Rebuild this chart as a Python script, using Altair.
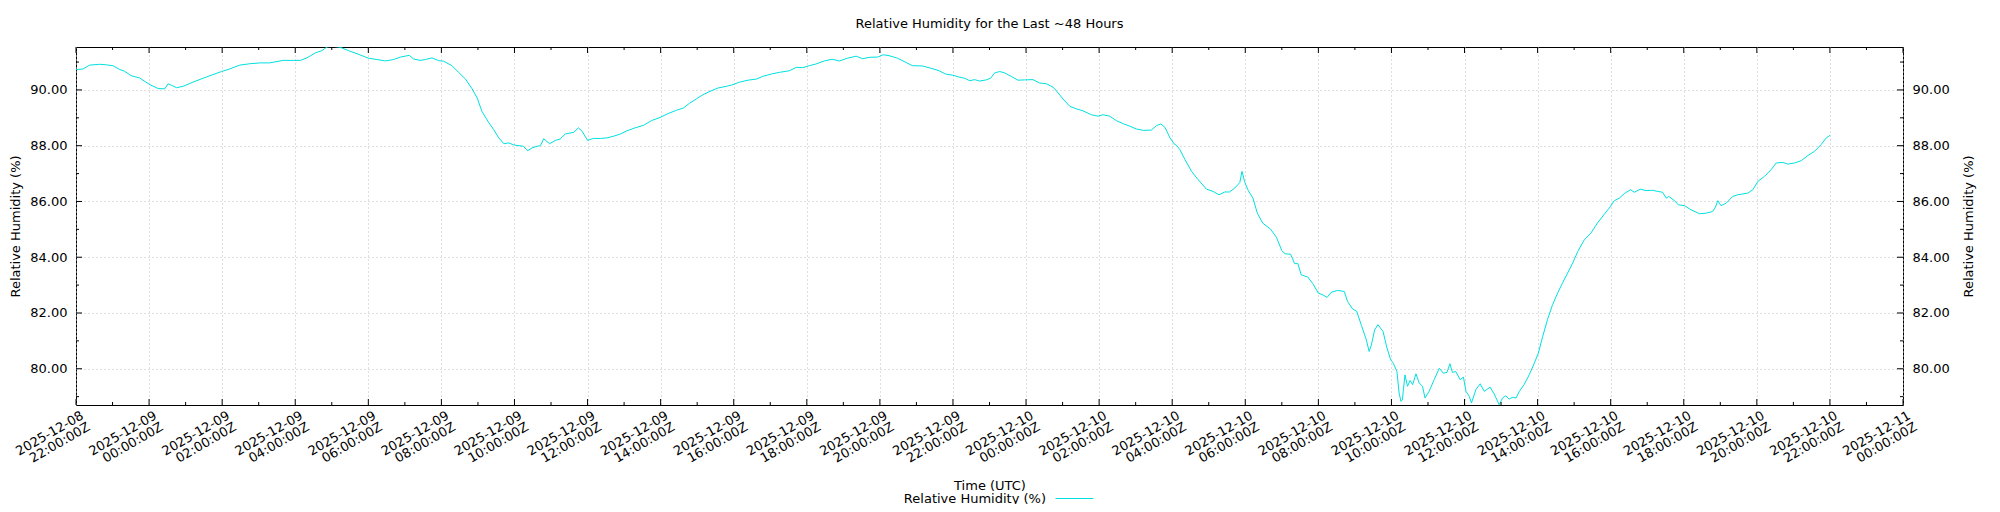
import altair as alt
import pandas as pd
from datetime import datetime, timezone

# ---------------- data ----------------
START = datetime(2025, 12, 8, 22, 0, tzinfo=timezone.utc)
START_MS = int(START.timestamp() * 1000)
HOUR_MS = 3600000

# hours after 2025-12-08 22:00Z
hours = [
    0.00, 0.19, 0.37, 0.65, 0.83, 1.01, 1.20, 1.33, 1.51, 1.74, 2.02, 2.25, 2.43, 2.52, 2.61,
    2.75, 2.93, 3.20, 3.48, 3.75, 3.98, 4.20, 4.48, 4.76, 5.03, 5.30, 5.67, 5.94,
    6.14, 6.32, 6.55, 6.73, 6.87, 7.00, 7.23, 7.46, 7.69, 8.00, 8.24, 8.47, 8.69, 8.88, 9.00,
    9.12, 9.24, 9.42, 9.56, 9.74, 9.93, 10.06, 10.29, 10.47, 10.66, 10.84, 10.98, 11.11, 11.30,
    11.43, 11.57, 11.71, 11.84, 11.98,
    12.07, 12.24, 12.36, 12.48, 12.62, 12.71, 12.80, 12.96, 13.12, 13.25, 13.39, 13.62, 13.75,
    13.85, 14.00, 14.16, 14.35, 14.53, 14.71, 14.90, 15.07, 15.30, 15.53, 15.75, 15.98, 16.20,
    16.43, 16.62, 16.80, 16.98, 17.16, 17.35, 17.57, 17.80, 17.98,
    18.16, 18.39, 18.62, 18.80, 19.03, 19.25, 19.53, 19.71, 19.89, 20.07, 20.25, 20.48, 20.69,
    20.89, 21.12, 21.35, 21.53, 21.71, 21.94, 22.09, 22.25, 22.48, 22.71, 22.89, 23.16, 23.39,
    23.62, 23.80, 24.03,
    24.14, 24.32, 24.46, 24.59, 24.73, 24.91, 25.03, 25.14, 25.28, 25.42, 25.60, 25.78, 25.96,
    26.19, 26.37, 26.56, 26.74, 26.88, 27.01, 27.20, 27.38, 27.56, 27.79, 27.97, 28.11, 28.29,
    28.47, 28.66, 28.84, 29.02, 29.21, 29.43, 29.57, 29.69, 29.80, 29.94, 30.05,
    30.12, 30.21, 30.35, 30.53, 30.71, 30.94, 31.12, 31.28, 31.44, 31.57, 31.71, 31.85, 31.91,
    31.98, 32.07, 32.21, 32.33, 32.48, 32.69, 32.85, 33.00, 33.09, 33.24, 33.35, 33.44, 33.53,
    33.71, 33.85, 34.00, 34.12, 34.24, 34.35, 34.53, 34.71, 34.80, 34.94, 35.05, 35.18, 35.31,
    35.39, 35.45, 35.54, 35.63, 35.77, 35.87, 35.98,
    36.05, 36.15, 36.21, 36.26, 36.30, 36.37, 36.44, 36.51, 36.58, 36.67, 36.76, 36.85, 36.92,
    37.03, 37.17, 37.31, 37.42, 37.52, 37.60, 37.67, 37.76, 37.88, 37.97, 38.04, 38.13, 38.19,
    38.31, 38.43, 38.54, 38.70, 38.81, 38.95, 39.04, 39.13, 39.22, 39.32, 39.41, 39.50, 39.63,
    39.77, 39.91, 40.02, 40.14, 40.27, 40.41, 40.55, 40.68, 40.82, 40.96, 41.10, 41.28, 41.46,
    41.64, 41.83, 41.96,
    42.10, 42.24, 42.37, 42.54, 42.65, 42.81, 42.97, 43.15, 43.29, 43.42, 43.52, 43.59, 43.74,
    43.85, 44.02, 44.20, 44.43, 44.61, 44.79, 44.87, 44.93, 45.02, 45.16, 45.34, 45.48, 45.75,
    45.89, 46.03, 46.21, 46.39, 46.53, 46.71, 46.85, 47.03, 47.21, 47.40, 47.58, 47.76, 47.90,
    48.00,
]

humidity = [
    90.73, 90.75, 90.89, 90.92, 90.90, 90.87, 90.73, 90.67, 90.51, 90.43, 90.19, 90.05, 90.04, 90.22, 90.17,
    90.08, 90.13, 90.28, 90.42, 90.55, 90.66, 90.75, 90.89, 90.94, 90.97, 90.97, 91.06, 91.06,
    91.06, 91.15, 91.33, 91.41, 91.54, 91.57, 91.53, 91.41, 91.30, 91.14, 91.09, 91.04, 91.09, 91.18, 91.21,
    91.24, 91.11, 91.06, 91.09, 91.15, 91.05, 91.03, 90.87, 90.63, 90.39, 90.04, 89.71, 89.23, 88.82,
    88.58, 88.28, 88.07, 88.10, 88.03,
    88.01, 87.98, 87.82, 87.92, 87.98, 88.00, 88.25, 88.07, 88.19, 88.24, 88.42, 88.48, 88.64,
    88.52, 88.19, 88.26, 88.26, 88.28, 88.34, 88.42, 88.53, 88.64, 88.73, 88.90, 89.01, 89.15,
    89.27, 89.35, 89.53, 89.68, 89.83, 89.95, 90.07, 90.13, 90.19,
    90.28, 90.35, 90.39, 90.49, 90.57, 90.63, 90.69, 90.81, 90.80, 90.87, 90.93, 91.04, 91.10,
    91.04, 91.14, 91.21, 91.12, 91.17, 91.18, 91.26, 91.23, 91.14, 90.99, 90.87, 90.86, 90.78,
    90.69, 90.57, 90.52,
    90.47, 90.42, 90.33, 90.37, 90.32, 90.36, 90.42, 90.61, 90.66, 90.61, 90.48, 90.35, 90.36,
    90.37, 90.25, 90.22, 90.10, 89.89, 89.68, 89.41, 89.32, 89.25, 89.11, 89.06, 89.11, 89.06,
    88.90, 88.79, 88.70, 88.60, 88.55, 88.56, 88.72, 88.78, 88.66, 88.28, 88.07,
    88.01, 87.86, 87.50, 87.08, 86.78, 86.44, 86.36, 86.24, 86.34, 86.34, 86.48, 86.68, 87.08,
    86.72, 86.42, 86.12, 85.58, 85.22, 85.01, 84.72, 84.24, 84.12, 84.11, 83.77, 83.77, 83.37,
    83.29, 83.05, 82.71, 82.65, 82.56, 82.74, 82.81, 82.77, 82.41, 82.14, 82.06, 81.55, 81.05,
    80.62, 80.85, 81.39, 81.58, 81.34, 80.78, 80.32,
    80.20, 79.90, 79.13, 78.83, 78.89, 79.78, 79.37, 79.58, 79.43, 79.82, 79.49, 79.37, 78.95,
    79.19, 79.61, 80.02, 79.84, 79.87, 80.18, 79.87, 79.90, 79.61, 79.70, 79.19, 79.01, 78.77,
    79.25, 79.46, 79.19, 79.34, 79.10, 78.71, 78.95, 79.03, 78.91, 78.98, 78.95, 79.19, 79.43,
    79.78, 80.20, 80.56, 81.16, 81.76, 82.30, 82.72, 83.07, 83.43, 83.79, 84.21, 84.63, 84.87,
    85.23, 85.55, 85.76,
    86.03, 86.12, 86.28, 86.42, 86.33, 86.44, 86.39, 86.40, 86.36, 86.33, 86.12, 86.18, 86.04,
    85.88, 85.85, 85.70, 85.56, 85.58, 85.64, 85.80, 86.03, 85.85, 85.94, 86.18, 86.24, 86.30,
    86.42, 86.72, 86.90, 87.14, 87.38, 87.40, 87.34, 87.38, 87.46, 87.65, 87.80, 88.04, 88.28,
    88.37,
]

series_name = "Relative Humidity (%)"

# tick positions (hours after start) and y tick values
x_major_hours = list(range(0, 51, 2))
x_minor_hours = list(range(1, 51, 2))
y_major = [80, 82, 84, 86, 88, 90]
y_minor = [79, 81, 83, 85, 87, 89, 91]
y_domain = [78.70, 91.54]

# ---------------- styling ----------------
W, H = 1827, 358
FONT = "DejaVu Sans"
FS = 13
CYAN = "#00e0e0"
GRID = "#bdbdbd"
MAJ, MIN = 6, 3


def to_ms(h):
    return int(round(START_MS + h * HOUR_MS))


def to_dt(h):
    d = datetime.fromtimestamp(to_ms(h) / 1000, tz=timezone.utc)
    return alt.DateTime(year=d.year, month=d.month, date=d.day, hours=d.hour, utc=True)


df = pd.DataFrame({"t": [to_ms(h) for h in hours], "rh": humidity, "series": series_name})
xmaj_df = pd.DataFrame({"t": [to_ms(h) for h in x_major_hours]})
xmin_df = pd.DataFrame({"t": [to_ms(h) for h in x_minor_hours]})
ymaj_df = pd.DataFrame({"rh": y_major})
ymin_df = pd.DataFrame({"rh": y_minor})

x_scale = alt.Scale(type="utc", domain=[to_dt(0), to_dt(50)], nice=False)
y_scale = alt.Scale(domain=y_domain, nice=False, zero=False)

# two-line tick labels; the time line carries two no-break spaces so that the
# rotated lines stack straight down on screen, as in the reference
x_axis = alt.Axis(
    orient="bottom",
    values=[to_dt(h) for h in x_major_hours],
    labelExpr="split(utcFormat(datum.value, '%Y-%m-%d|%H:%M:%SZ\u00a0\u00a0'), '|')",
    labelAngle=330, labelAlign="right", labelBaseline="top", labelLineHeight=13,
    labelPadding=4, labelOffset=3, labelOverlap=False, labelFlush=False,
    grid=True, gridColor=GRID, gridDash=[1, 3], gridWidth=1,
    title="Time (UTC)", titleY=84, titleBaseline="alphabetic",
)
y_axis_left = alt.Axis(
    orient="left", values=y_major, format=".2f", labelPadding=9,
    grid=True, gridColor=GRID, gridDash=[1, 3], gridWidth=1,
    title=series_name, titleX=-57, titleY=H / 2, titleBaseline="alphabetic",
)
y_axis_right = alt.Axis(
    orient="right", values=y_major, format=".2f", labelPadding=9, grid=False,
    title=series_name, titleAngle=270, titleX=69, titleY=H / 2, titleBaseline="alphabetic",
)

X = alt.X("t:T", scale=x_scale, axis=x_axis)
Y_LEFT = alt.Y("rh:Q", scale=y_scale, axis=y_axis_left)
Y_RIGHT = alt.Y("rh:Q", scale=y_scale, axis=y_axis_right)

line = alt.Chart(df).mark_line(clip=True, strokeWidth=1).encode(
    x=X,
    y=Y_LEFT,
    color=alt.Color(
        "series:N",
        scale=alt.Scale(range=[CYAN]),
        legend=alt.Legend(
            orient="none", legendX=979, legendY=432, title=None,
            symbolType="stroke", symbolSize=1444, symbolStrokeWidth=1,
            labelAlign="right", labelOffset={"expr": "-48"}, labelLimit=0,
            labelFont=FONT, labelFontSize=FS, labelColor="black", padding=0,
        ),
    ),
)

left_layers = [line]
# inward ticks on the top and bottom borders
for data, length in ((xmaj_df, MAJ), (xmin_df, MIN)):
    left_layers.append(alt.Chart(data).mark_rule(color="black", strokeWidth=1).encode(
        x=X, y=alt.value(0), y2=alt.value(length)))
    left_layers.append(alt.Chart(data).mark_rule(color="black", strokeWidth=1).encode(
        x=X, y=alt.value(H), y2=alt.value(H - length)))
# inward ticks on the left and right borders
for data, length in ((ymaj_df, MAJ), (ymin_df, MIN)):
    left_layers.append(alt.Chart(data).mark_rule(color="black", strokeWidth=1).encode(
        y=Y_LEFT, x=alt.value(0), x2=alt.value(length)))
left_layers.append(alt.Chart(ymin_df).mark_rule(color="black", strokeWidth=1).encode(
    y=Y_LEFT, x=alt.value(W), x2=alt.value(W - MIN)))

right_layer = alt.Chart(ymaj_df).mark_rule(color="black", strokeWidth=1).encode(
    y=Y_RIGHT, x=alt.value(W), x2=alt.value(W - MAJ))

chart = (
    alt.layer(alt.layer(*left_layers), right_layer)
    .resolve_axis(y="independent")
    .properties(
        width=W, height=H,
        padding={"left": 68, "top": 39, "right": 89, "bottom": 99},
        autosize=alt.AutoSizeParams(type="none"),
        title=alt.TitleParams(
            text="Relative Humidity for the Last ~48 Hours", anchor="middle", frame="group",
            offset=6, baseline="alphabetic", font=FONT, fontSize=FS, fontWeight="normal",
            color="black",
        ),
    )
    .configure(font=FONT)
    .configure_view(stroke="black", strokeWidth=1)
    .configure_axis(
        labelFont=FONT, labelFontSize=FS, labelColor="black",
        titleFont=FONT, titleFontSize=FS, titleFontWeight="normal", titleColor="black",
        domain=False, ticks=False, tickSize=0,
    )
)

chart.save("out.html", embed_options={"renderer": "svg", "actions": False})
